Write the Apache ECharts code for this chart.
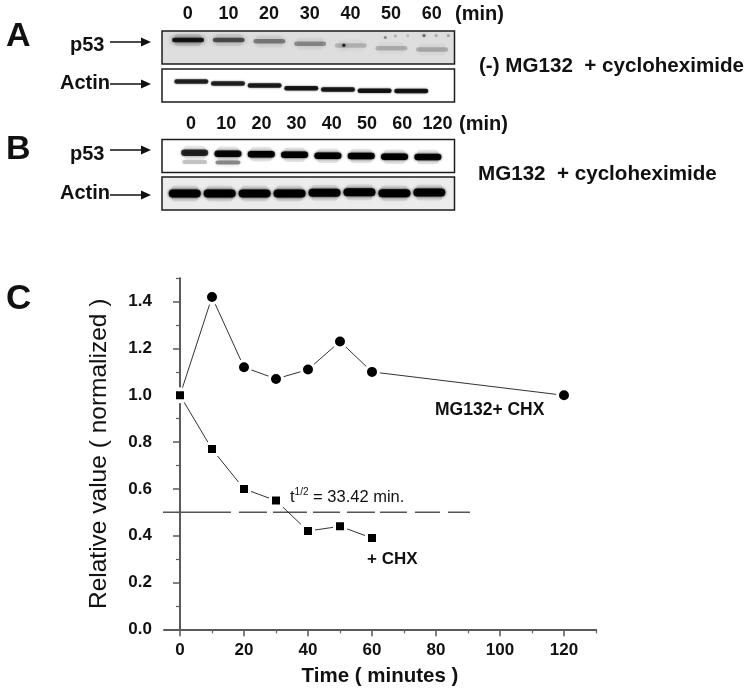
<!DOCTYPE html>
<html><head><meta charset="utf-8">
<style>html,body{margin:0;padding:0;background:#fff}#c{width:751px;height:699px}</style>
<script src="https://cdn.jsdelivr.net/npm/echarts@6/dist/echarts.min.js"></script>
</head><body><div id="c"></div>
<script>
// ---- curve data (panel C)
const timeMG = [0, 10, 20, 30, 40, 50, 60, 120];
const valueMG = [1.0, 1.42, 1.12, 1.07, 1.11, 1.23, 1.10, 1.0];
const timeCHX = [0, 10, 20, 30, 40, 50, 60];
const valueCHX = [1.0, 0.77, 0.60, 0.55, 0.42, 0.44, 0.39];
const halfLifeX = [-7.2, 91];
const halfLifeY = [0.5, 0.5];
const xMajor = [0, 20, 40, 60, 80, 100, 120];
const xMinor = [10, 30, 50, 70, 90, 110, 130];
const yMajor = [0, 0.2, 0.4, 0.6, 0.8, 1.0, 1.2, 1.4];
const yMinor = [0.1, 0.3, 0.5, 0.7, 0.9, 1.1, 1.3, 1.5];
// ---- blot lane labels
const lanesA = ['0', '10', '20', '30', '40', '50', '60'];
const lanesB = ['0', '10', '20', '30', '40', '50', '60', '120'];
// ---- blot band readings: position down the panel (0-1) and darkness (0-1)
const aP53Pos = [0.27, 0.27, 0.31, 0.39, 0.44, 0.52, 0.56];
const aP53Dark = [0.85, 0.58, 0.40, 0.34, 0.18, 0.20, 0.22];
const aP53FaintLane = [4.85, 5.1, 5.4, 5.8, 6.1, 6.4, 3.83];
const aP53FaintPos = [0.2, 0.15, 0.14, 0.14, 0.14, 0.14, 0.43];
const aP53FaintDark = [0.35, 0.2, 0.15, 0.5, 0.22, 0.25, 0.8];
const aActinPos = [0.38, 0.44, 0.50, 0.58, 0.62, 0.66, 0.67];
const aActinDark = [0.75, 0.75, 0.78, 0.8, 0.8, 0.82, 0.82];
const bP53Pos = [0.40, 0.43, 0.45, 0.46, 0.49, 0.50, 0.52, 0.53];
const bP53Dark = [0.75, 0.92, 0.98, 0.98, 0.98, 0.98, 0.98, 0.95];
const bLowerPos = [0.68, 0.70];
const bLowerDark = [0.22, 0.42];
const bActinPos = [0.50, 0.50, 0.50, 0.50, 0.48, 0.46, 0.49, 0.47];
const bActinDark = [0.98, 0.98, 0.95, 0.98, 0.96, 0.96, 0.98, 0.95];

const FONT = '"Liberation Sans", Arial, sans-serif';
const AXIS = '#5a5a5a';

function band(w, h, blur, halo) {
  return function (params, api) {
    const c = api.coord([api.value(0), api.value(1)]);
    const a = api.value(2);
    const kids = [];
    if (halo) kids.push({
      type: 'rect',
      shape: { x: c[0] - w / 2 + 3, y: c[1] - h / 2 - halo + 3, width: w - 6, height: h + 2 * halo - 6, r: 3 },
      style: { fill: 'rgba(0,0,0,' + a * 0.1 + ')', shadowBlur: 9, shadowColor: 'rgba(0,0,0,' + a * 0.2 + ')' }
    });
    kids.push({
      type: 'rect',
      shape: { x: c[0] - w / 2, y: c[1] - h / 2, width: w, height: h, r: h / 2 },
      style: { fill: 'rgba(0,0,0,' + a + ')', shadowBlur: blur, shadowColor: 'rgba(0,0,0,' + a + ')' }
    });
    return { type: 'group', children: kids };
  };
}
const zipBands = (pos, dark, lanes) => pos.map((p, i) => [lanes ? lanes[i] : i, p, dark[i]]);

const panels = [
  { top: 31, bottom: 64, min: -0.64, max: 6.55, bg: '#dedede' },
  { top: 69, bottom: 102, min: -0.8, max: 7.18, bg: '#ffffff' },
  { top: 139.5, bottom: 172.5, min: -0.98, max: 7.8, bg: '#ffffff' },
  { top: 177, bottom: 210, min: -0.65, max: 7.72, bg: '#ececec' }
];

const grid = [{ left: 164, right: 155, top: 278.3, bottom: 69.7 }];
const xAxis = [
  { type: 'value', gridIndex: 0, min: -5, max: 130, position: 'bottom', splitLine: { show: false },
    axisLine: { lineStyle: { color: AXIS, width: 2 } },
    axisTick: { length: 7, customValues: xMajor, lineStyle: { color: AXIS, width: 1.5 } },
    axisLabel: { customValues: xMajor, margin: 13, color: '#111', fontFamily: FONT, fontWeight: 'bold', fontSize: 17, formatter: v => String(v) },
    name: 'Time ( minutes )', nameLocation: 'middle', nameGap: 37,
    nameTextStyle: { color: '#111', fontFamily: FONT, fontWeight: 'bold', fontSize: 20.5 } },
  { type: 'value', gridIndex: 0, min: -5, max: 130, position: 'bottom', splitLine: { show: false },
    axisLine: { show: false }, axisLabel: { show: false },
    axisTick: { length: 4, customValues: xMinor, lineStyle: { color: AXIS, width: 1.2 } } }
];
const yAxis = [
  { type: 'value', gridIndex: 0, min: 0, max: 1.5, position: 'left', splitLine: { show: false },
    axisLine: { lineStyle: { color: AXIS, width: 2 } },
    axisTick: { length: 7, customValues: yMajor, lineStyle: { color: AXIS, width: 1.5 } },
    axisLabel: { customValues: yMajor, margin: 12, color: '#111', fontFamily: FONT, fontWeight: 'bold', fontSize: 17, formatter: v => v.toFixed(1) },
    name: 'Relative value ( normalized )', nameLocation: 'middle', nameGap: 52, nameRotate: 90,
    nameTextStyle: { color: '#111', fontFamily: FONT, fontSize: 24.5 } },
  { type: 'value', gridIndex: 0, min: 0, max: 1.5, position: 'left', splitLine: { show: false },
    axisLine: { show: false }, axisLabel: { show: false },
    axisTick: { length: 4, customValues: yMinor, lineStyle: { color: AXIS, width: 1.2 } } }
];
// blot panels: grids 1-4 use axes 2-5
panels.forEach(p => {
  const gi = grid.length;
  grid.push({ show: true, left: 162, right: 751 - 454.5, top: p.top, height: p.bottom - p.top,
    backgroundColor: p.bg, borderColor: '#1c1c1c', borderWidth: 1.5 });
  xAxis.push({ type: 'value', gridIndex: gi, min: p.min, max: p.max, show: false });
  yAxis.push({ type: 'value', gridIndex: gi, min: 0, max: 1, inverse: true, show: false });
});
// lane label rows
[[lanesA, 167.4, 40.67, 4], [lanesB, 173.4, 35.2, 114]].forEach(r => {
  const gi = grid.length;
  grid.push({ left: r[1], width: r[2] * r[0].length, top: r[3], height: 1 });
  xAxis.push({ type: 'category', gridIndex: gi, data: r[0], axisLine: { show: false }, axisTick: { show: false },
    axisLabel: { interval: 0, margin: 0, verticalAlign: 'top', color: '#111', fontFamily: FONT, fontWeight: 'bold', fontSize: 18 } });
  yAxis.push({ type: 'value', gridIndex: gi, show: false });
});

const blot = (ai, render, data) => ({ type: 'custom', xAxisIndex: ai, yAxisIndex: ai, clip: true, silent: true,
  encode: { x: 0, y: 1 }, renderItem: render, data: data });

const series = [
  blot(2, band(32, 4.5, 5, 7), zipBands(aP53Pos, aP53Dark)),
  blot(2, band(3, 3, 3, 0), zipBands(aP53FaintPos, aP53FaintDark, aP53FaintLane)),
  blot(3, band(34, 4.5, 2, 0), zipBands(aActinPos, aActinDark)),
  blot(4, band(27, 6.5, 2.5, 7), zipBands(bP53Pos, bP53Dark)),
  blot(4, band(25, 4, 5, 0), zipBands(bLowerPos, bLowerDark)),
  blot(5, band(32, 8, 3, 7), zipBands(bActinPos, bActinDark)),
  { type: 'line', xAxisIndex: 0, yAxisIndex: 0, data: halfLifeX.map((x, i) => [x, halfLifeY[i]]), showSymbol: false, clip: false, silent: true,
    lineStyle: { color: '#555', width: 1.5, type: [74, 8, 28, 6, 34, 6, 27, 7, 28, 5, 27, 8, 25, 8, 22, 400] } },
  { type: 'line', xAxisIndex: 0, yAxisIndex: 0, name: 'MG132+ CHX', data: timeMG.map((x, i) => [x, valueMG[i]]), clip: false,
    symbol: 'circle', symbolSize: 13, lineStyle: { color: '#333', width: 1 },
    itemStyle: { color: '#000', borderColor: '#fff', borderWidth: 3 } },
  { type: 'line', xAxisIndex: 0, yAxisIndex: 0, name: '+ CHX', data: timeCHX.map((x, i) => [x, valueCHX[i]]), clip: false,
    symbol: 'rect', symbolSize: 11, lineStyle: { color: '#333', width: 1 },
    itemStyle: { color: '#000', borderColor: '#fff', borderWidth: 3 } }
];

function txt(t, x, y, size, weight, sx) {
  return { type: 'text', x: x, y: y, scaleX: sx || 1, z: 50,
    style: { text: t, fill: '#111', font: (weight || 'bold') + ' ' + size + 'px ' + FONT, verticalAlign: 'middle' } };
}
function arrow(x1, x2, y) {
  return [
    { type: 'line', z: 50, shape: { x1: x1, y1: y, x2: x2 - 8, y2: y }, style: { stroke: '#111', lineWidth: 1.3 } },
    { type: 'polygon', z: 50, shape: { points: [[x2 - 10, y - 4.5], [x2, y], [x2 - 10, y + 4.5]] }, style: { fill: '#111' } }
  ];
}
const graphic = [
  txt('A', 6, 37, 34),
  txt('B', 6, 150, 34),
  txt('C', 6, 299, 35),
  txt('p53', 70, 45, 20),
  txt('Actin', 60, 83, 20),
  txt('p53', 70, 154, 20),
  txt('Actin', 60, 193, 20),
  txt('(min)', 455, 14, 20),
  txt('(min)', 459, 124, 20),
  txt('(-) MG132  + cycloheximide', 479, 66, 20, 'bold', 1.03),
  txt('MG132  + cycloheximide', 478, 174, 20, 'bold', 1.03),
  txt('MG132+ CHX', 435, 410, 17.5),
  txt('+ CHX', 367, 559, 17),
  { type: 'text', x: 290, y: 497, z: 50, style: {
      text: '{a|t}{b|1/2}{a| = 33.42 min.}', verticalAlign: 'middle', fill: '#111',
      rich: { a: { font: '16.5px ' + FONT, fill: '#111' }, b: { font: '10px ' + FONT, fill: '#111', verticalAlign: 'top', lineHeight: 20 } } } }
].concat(arrow(110, 151, 42), arrow(110, 151, 84), arrow(110, 151, 150), arrow(110, 151, 195));

const chart = echarts.init(document.getElementById('c'), null, { renderer: 'canvas' });
chart.setOption({ animation: false, backgroundColor: '#fff', grid, xAxis, yAxis, series, graphic, tooltip: { show: false } });
</script></body></html>
